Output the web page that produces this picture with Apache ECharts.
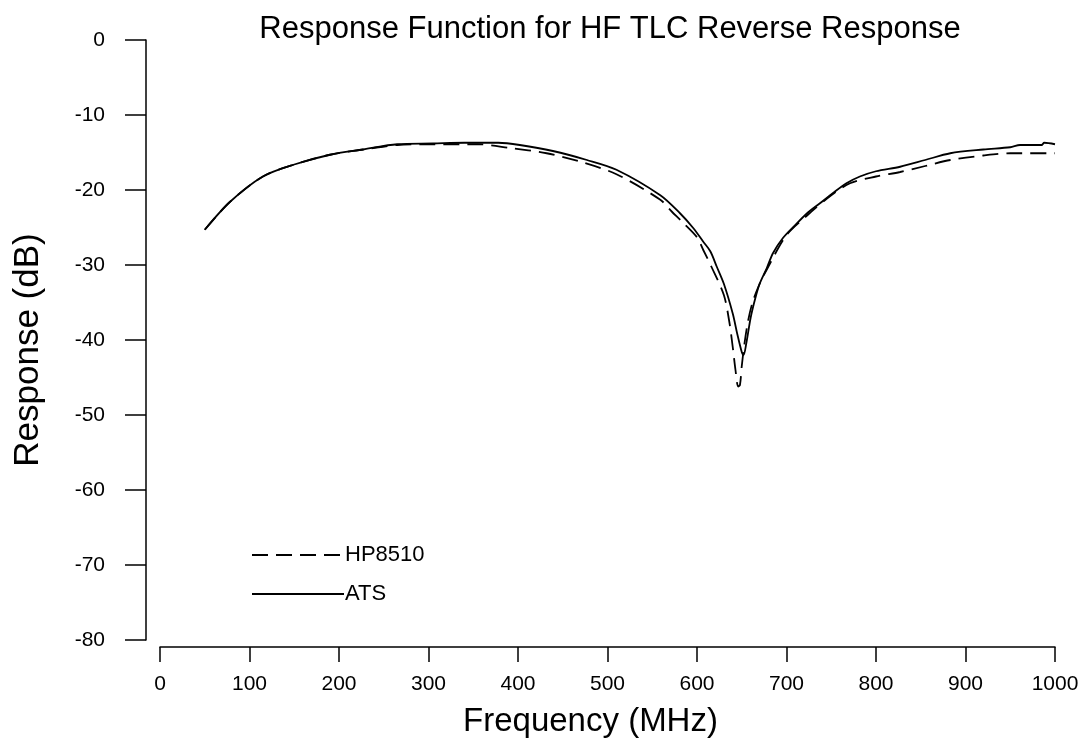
<!DOCTYPE html>
<html>
<head>
<meta charset="utf-8">
<script src="https://cdn.jsdelivr.net/npm/echarts@6/dist/echarts.min.js"></script>
<style>
  html, body { margin: 0; padding: 0; background: #fff; }
  #main { width: 1085px; height: 750px; }
</style>
</head>
<body>
<div id="main"></div>
<script>
// 数据：频率 (MHz) 与响应 (dB)
var atsFreq = [50, 78, 115, 150, 190, 227, 265, 305, 340, 378, 402, 439, 477, 510, 559, 581, 596, 607, 615, 622, 630, 640, 645, 650, 652, 655, 660, 665, 670, 678, 685, 696, 708, 723, 737, 752, 767, 782, 800, 827, 855, 883, 920, 950, 961, 985, 988, 1000];
var atsResp = [-25.3, -21.6, -18.2, -16.6, -15.3, -14.6, -13.9, -13.8, -13.7, -13.7, -14.0, -14.8, -16.0, -17.3, -20.7, -23.1, -25.1, -26.9, -28.2, -30.2, -32.5, -36.5, -39.2, -41.6, -42.0, -40.5, -37.0, -34.5, -32.5, -30.4, -28.4, -26.4, -24.9, -23.1, -21.8, -20.4, -19.1, -18.2, -17.5, -16.9, -16.0, -15.1, -14.6, -14.3, -14.0, -14.0, -13.7, -13.9];

var hpFreq = [50, 78, 115, 150, 190, 227, 265, 305, 355, 391, 432, 469, 510, 559, 572, 583, 600, 607, 616, 630, 636, 640, 643, 646, 648, 650, 653, 657, 662, 670, 678, 700, 723, 750, 771, 800, 827, 855, 883, 920, 950, 1000];
var hpResp = [-25.3, -21.6, -18.2, -16.6, -15.3, -14.6, -14.0, -13.9, -13.9, -14.4, -15.1, -16.2, -17.9, -21.3, -22.9, -24.2, -26.3, -28.0, -30.2, -34.0, -37.5, -41.0, -44.0, -46.2, -46.0, -43.5, -40.5, -37.5, -35.0, -32.5, -30.6, -26.0, -23.4, -20.7, -19.1, -18.2, -17.6, -16.8, -16.0, -15.4, -15.1, -15.1];

var xTicks = { min: 0, max: 1000, interval: 100 };
var yTicks = { min: -80, max: 0, interval: 10 };

function pairs(xs, ys) {
    var out = [];
    for (var i = 0; i < xs.length; i++) out.push([xs[i], ys[i]]);
    return out;
}

var myChart = echarts.init(document.getElementById('main'));
var font = 'Liberation Sans, Arial, sans-serif';

var option = {
    animation: false,
    title: {
        text: 'Response Function for HF TLC Reverse Response',
        left: 605,
        textAlign: 'center',
        top: 9,
        textStyle: { fontFamily: font, fontSize: 31, fontWeight: 'normal', color: '#000' }
    },
    legend: {
        orient: 'vertical',
        left: 246,
        top: 539,
        itemWidth: 92,
        itemHeight: 14,
        itemGap: 17,
        itemStyle: { color: 'rgba(0,0,0,0)', borderWidth: 0, opacity: 0 },
        textStyle: { fontFamily: font, fontSize: 22, color: '#000', padding: [0, 0, 0, -4] },
        data: ['HP8510', 'ATS']
    },
    grid: { left: 160, right: 30, top: 40, bottom: 110 },
    xAxis: {
        type: 'value',
        min: xTicks.min, max: xTicks.max, interval: xTicks.interval,
        offset: 7,
        name: 'Frequency (MHz)',
        nameLocation: 'middle',
        nameGap: 58,
        nameTextStyle: { fontFamily: font, fontSize: 33, color: '#000', padding: [0, 34, 0, 0] },
        axisLine: { onZero: false, lineStyle: { color: '#000', width: 1.5 } },
        axisTick: { length: 15, lineStyle: { color: '#000', width: 1.5 } },
        axisLabel: { fontFamily: font, fontSize: 21, color: '#000', margin: 27, formatter: function (v) { return String(v); } },
        splitLine: { show: false }
    },
    yAxis: {
        type: 'value',
        min: yTicks.min, max: yTicks.max, interval: yTicks.interval,
        offset: 14,
        name: 'Response (dB)',
        nameLocation: 'middle',
        nameGap: 100,
        nameTextStyle: { fontFamily: font, fontSize: 35, color: '#000', padding: [0, 20, 0, 0] },
        axisLine: { show: true, onZero: false, lineStyle: { color: '#000', width: 1.5 } },
        axisTick: { show: true, length: 21, lineStyle: { color: '#000', width: 1.5 } },
        axisLabel: { fontFamily: font, fontSize: 21, color: '#000', margin: 41 },
        splitLine: { show: false }
    },
    series: [{
        name: 'HP8510',
        type: 'line',
        data: pairs(hpFreq, hpResp),
        symbol: 'none',
        smooth: 0.3,
        lineStyle: { color: '#000', width: 1.8, type: [16, 8] },
        itemStyle: { color: '#000' }
    }, {
        name: 'ATS',
        type: 'line',
        data: pairs(atsFreq, atsResp),
        symbol: 'none',
        smooth: 0.3,
        lineStyle: { color: '#000', width: 1.8, type: 'solid' },
        itemStyle: { color: '#000' }
    }]
};

myChart.setOption(option);
</script>
</body>
</html>
